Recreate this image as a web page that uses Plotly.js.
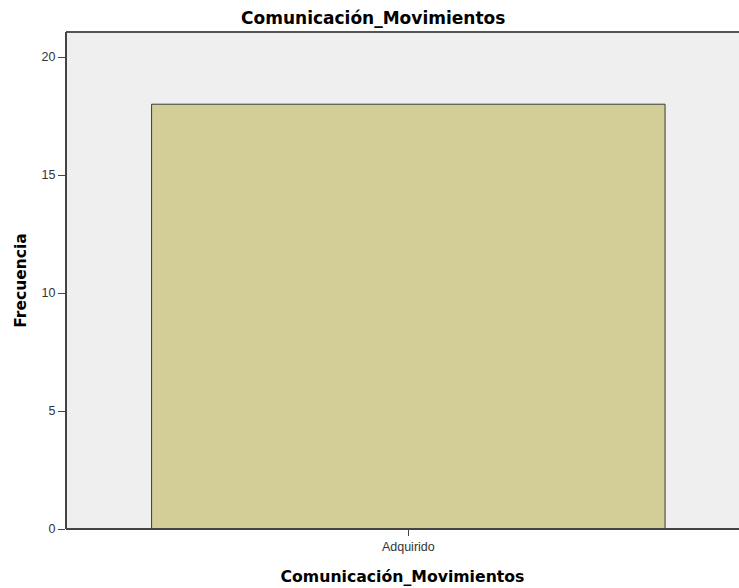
<!DOCTYPE html>
<html><head><meta charset="utf-8">
<script src="https://cdn.plot.ly/plotly-3.0.1.min.js"></script>
<style>body{margin:0;padding:0;background:#fff}#c{width:739px;height:588px}</style>
</head><body><div id="c"></div>
<script>
const categories = ["Adquirido"];
const frecuencias = [18];
const yTicks = [0, 5, 10, 15, 20];

const trace = {
  type: "bar",
  x: categories,
  y: frecuencias,
  width: 0.75,
  marker: {color: "#d3ce98", line: {color: "#3a3a3a", width: 1}},
  hoverinfo: "x+y"
};
const font = "Arial, 'Liberation Sans', sans-serif";
const tfont = "'DejaVu Sans', sans-serif";
const layout = {
  width: 739, height: 588,
  margin: {l: 66, r: 0, t: 32, b: 59, pad: 0},
  paper_bgcolor: "#ffffff",
  plot_bgcolor: "#efefef",
  showlegend: false,
  font: {family: font, color: "#333", size: 12},
  title: {text: "<b>Comunicación_Movimientos</b>", font: {family: tfont, size: 17, color: "#000"}, x: 0.505, xanchor: "center", y: 0.98, yanchor: "top"},
  xaxis: {
    range: [-0.5, 0.483],
    showline: false,
    ticks: "outside", ticklen: 6, tickcolor: "#444",
    showgrid: false, zeroline: false,
    tickfont: {family: font, size: 12.5, color: "#333"},
    title: {text: "<b>Comunicación_Movimientos</b>", font: {family: tfont, size: 15.7, color: "#000"}, standoff: 18}
  },
  yaxis: {
    range: [0, 21.06],
    tickvals: yTicks,
    showline: false,
    ticks: "outside", ticklen: 7, tickcolor: "#444",
    showgrid: false, zeroline: false,
    tickfont: {family: font, size: 12.5, color: "#333"},
    title: {text: "<b>Frecuencia</b>", font: {family: tfont, size: 15.5, color: "#000"}, standoff: 11}
  },
  shapes: [
    {type: "line", xref: "paper", yref: "paper", x0: 0, x1: 1, y0: 1, y1: 1, line: {color: "#555", width: 2}},
    {type: "line", xref: "paper", yref: "paper", x0: 0, x1: 1, y0: 0, y1: 0, line: {color: "#444", width: 2}},
    {type: "line", xref: "paper", yref: "paper", x0: 0, x1: 0, y0: 0, y1: 1, line: {color: "#444", width: 2}}
  ]
};
Plotly.newPlot("c", [trace], layout, {displayModeBar: false, staticPlot: true});
</script></body></html>
